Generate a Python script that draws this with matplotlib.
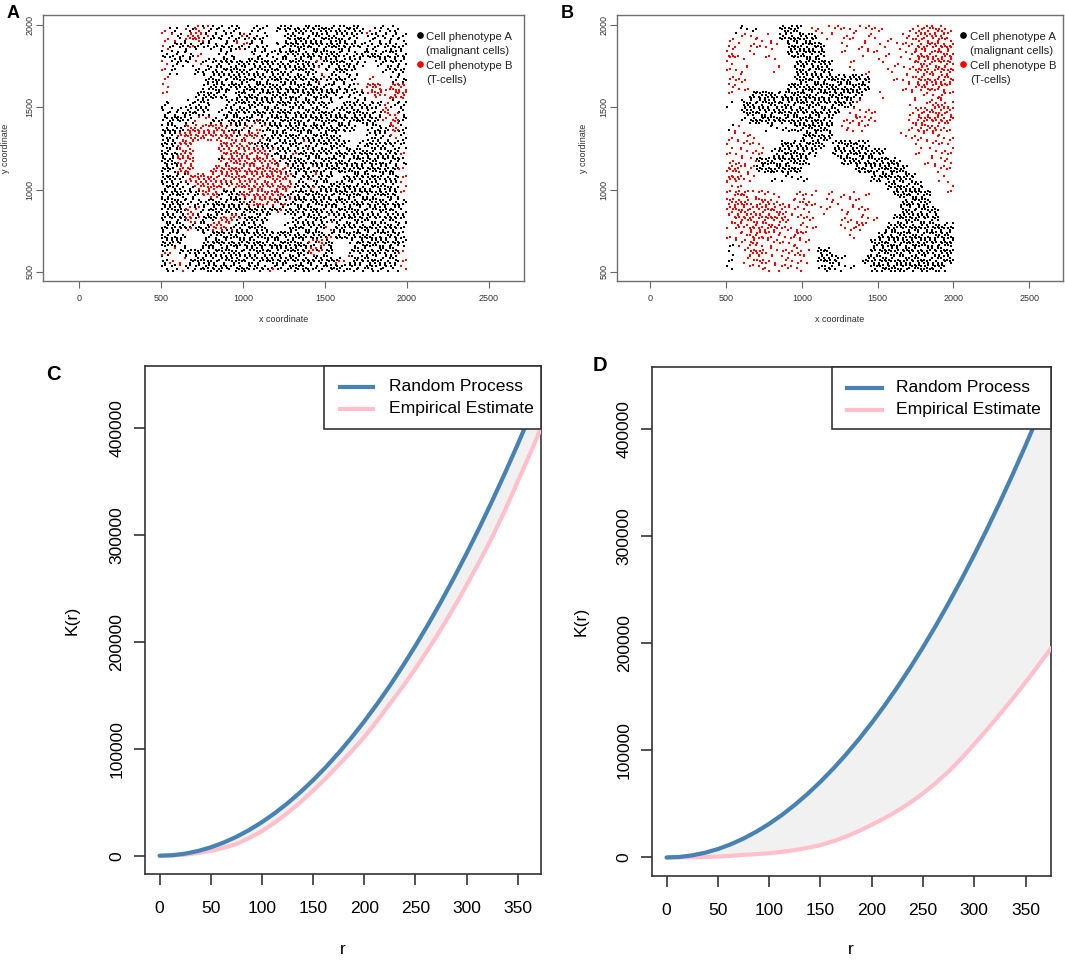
import matplotlib
matplotlib.use("Agg")
import matplotlib.pyplot as plt
from matplotlib.patches import Rectangle
from matplotlib.lines import Line2D

plt.rcParams['font.family'] = ['Liberation Sans', 'DejaVu Sans']

# ---------------- data ----------------
# Tissue maps (50 x 50 unit cells, region x 500-2000, y 500-2000, row 0 = top)
# K dense malignant, k sparse malignant, R dense T-cells, r sparse T-cells,
# m mixed, . empty
CELL = 50
X0, Y0 = 500, 500
map_A = [
    "r k . m R  m k k k k  . k k . k  K K K K K  K K K K k  r k k k .",
    "r r k R R  m k k k m  m k k . .  K K K K K  K K K K .  k k k k k",
    "r k k m k  k k k k m  m k k . k  K K K K K  K K K k k  k k k k k",
    "k k k k r  . . k k .  . k k k k  K K K K K  K K k k k  K K K K k",
    "r k k k r  k k K K K  K K K K K  K K K K m  K K K K k  . k k K k",
    "r k . . k  k K K K K  K K K K K  K K K K r  k K K k .  . . k k k",
    "r . . . .  k K K K K  K K K K K  K K K K m  k K k k .  r . . k k",
    "r . . . .  k K K K K  K K K K K  K K K K K  K k k k r  R R r R R",
    "r . . . k  K K K . K  K K K K K  K K K K K  K k k k k  r R r R R",
    "k . . k K  K . . K K  K K K K K  K K K K K  k . k K K  k k r k k",
    "k k k K K  K . k K K  K K K K K  K K K K K  K K K K K  K k R r k",
    "k K K k r  r k k K K  K m K K K  K K K K K  K K K K K  K k r R k",
    "K K k R R  R R R m K  m r m K K  K K K K K  K K K k .  k K k R k",
    "K K R R R  R R R R m  R R m K K  K K K K K  K K . . .  k K k r k",
    "K K R R .  . . R R R  R m K K K  K K m K K  K K K . k  K K K k k",
    "K K R R .  . . R R R  R R R m K  K m K K K  K K K K K  K K K K r",
    "K K R R .  . . m R R  R R R R m  K K K K K  K K K K K  K K K K k",
    "K k R R .  . R R R R  R R R R R  m K K m K  K K K K K  K K K K r",
    "K K k R R  R R R R R  R R R R R  R k K m K  K . K K K  K K K K r",
    "K K k k R  R R R m R  R R R R R  R k K m K  K K K K K  K K K K r",
    "K K K k k  R R k K m  R R R R R  m K K K K  K K K K K  K K K K r",
    "K K K k k  k K K K K  m R R R m  m K K K K  K K K K K  K K K K k",
    "K K K R m  k K K K K  K K K K m  K K K K K  K K K K K  K K K K k",
    "K K K R m  K K R R m  K K K . .  . K K K K  m K K K K  K K K K k",
    "K K K m K  K R R m K  K K K . .  k K K K K  r K K K K  K K K K k",
    "K K k . .  k K K K K  K K K K K  K K K K K  m K K K K  K K K K k",
    "K K k . .  K K K K K  K K K K K  K K K m R  K . . k K  K K K K k",
    "m r k k K  K K K K K  K K K K K  K K K R m  K . . k K  K K K K r",
    "k r r k K  K K K K K  K K K K K  K K K K K  K m r K K  K K K K r",
    "k k r k k  K K K k K  K k k m k  k K K k k  K K k K k  K k k k r",
]
map_B = [
    ". k k k .  . . K K K  . r r r r  r r r r r  r . . . r  R R R R r",
    "r . r r r  r . K K K  K K . r .  r r . r r  . r . r r  R R R R r",
    "r r . r r  r r . K K  K K K . .  r . r r .  r . r r r  R R R R R",
    "R r . r .  r . . K K  K K K . .  r . . r r  . r . r r  R R R R R",
    "r . r . .  . r . . K  K K K K .  . r . . .  r . r . r  R R R R R",
    "r r r . .  . r . . K  K K K K .  . r . r .  . r . r r  R R R R R",
    "r r r . .  . . . . K  K K K K K  K K K K .  . . r r r  R R R R R",
    "r r r . .  . . . K K  K K K K K  K K K K .  . . . r r  R R R R r",
    "r . . K K  K K K K K  K K K K K  K K K . .  r . . . r  . r r R r",
    "k . K K K  K K K K K  K K K K K  K K r . .  . . . . r  . r R R r",
    ". . K K K  K K K K K  K K K K K  . r r r r  . . . . r  R R R R R",
    ". . k K K  K K K K K  K K K K .  r r R r r  . . . . r  R R R R R",
    "k r . . .  k k k k K  K K K K .  r r r r .  . . . . r  R R R r r",
    "r r r r .  . . . . .  K K K K .  . . . . .  . . . r r  r r r r r",
    "r r r r r  . . K K K  K K K . K  K K K K .  . . . . .  r r r r r",
    "r r r r r  . K K K K  K K . . K  K K K K K  K . . . .  r . r r r",
    "r r r r K  K K K K K  K . . . .  K K K K K  K K K . .  . r r r r",
    "R R r r K  K K K K K  . . . . .  . . K K K  K K K K .  . . r r r",
    "R R r r .  . k k k k  k . . . .  . . . . K  K K K K K  . . . r .",
    "r r . . .  . . . . .  . . . . .  . . . . .  . K K K K  K . . . r",
    "r R R r r  r r . . r  r r . r .  r r . r .  . . K K K  K K . . r",
    "R R R r R  R r r r r  R r . r r  . r r . .  . . . K K  K K . . .",
    "R R R R R  R R R r r  r . r r .  r r r r .  . . . K K  K K K . .",
    "r R R R R  R R R r r  r r . . .  r r r r r  . . K K K  K K K . .",
    "r R r R R  R R r r r  r r . . .  r r R r .  . K K K K  K K K K K",
    "r r r R R  R r r r R  r . . . .  . r . . .  K K K K K  K K K K K",
    "k r r R r  r r r r r  r . . . .  . . . . K  K K K K K  K K K K K",
    "k . r R R  r r r r R  r . K K .  . . . . K  K K K K K  K K K K K",
    "k . r r R  r r r r r  r . K K K  k . . K K  K K K K K  K K K K K",
    "k . . r r  r r r r r  . . k K k  k k . . K  K K K K K  K K K K .",
]
# points per cell: (malignant, T-cells)
density_A = {'K': (6, 0), 'k': (4, 0), 'R': (0, 6), 'r': (0, 2), 'm': (3, 2), '.': (0, 0)}
density_B = {'K': (6, 0), 'k': (2, 0), 'R': (0, 5), 'r': (0, 2), 'm': (2, 2), '.': (0, 0)}

# K-function curves
r_vals = [0, 12.5, 25, 37.5, 50, 62.5, 75, 87.5, 100, 112.5, 125, 137.5, 150, 162.5,
          175, 187.5, 200, 212.5, 225, 237.5, 250, 262.5, 275, 287.5, 300, 312.5,
          325, 337.5, 350, 362.5, 375]
k_random = [0, 491, 1963, 4418, 7854, 12272, 17671, 24053, 31416, 39761, 49087,
            59396, 70686, 82958, 96211, 110447, 125664, 141863, 159043, 177205,
            196350, 216475, 237583, 259672, 282743, 306796, 331831, 357847, 384845,
            412825, 441786]
k_emp_C = [0, 150, 1000, 2500, 4500, 7300, 11000, 16500, 23000, 31000, 40000,
           50000, 61000, 72500, 85000, 97500, 111000, 126000, 142000, 158000,
           175000, 193000, 212000, 232000, 253000, 275000, 298000, 323000, 350000,
           377000, 405000]
k_emp_D = [0, 50, 200, 450, 800, 1500, 2400, 3100, 4000, 5300, 6900, 9000, 11500,
           15200, 19500, 24700, 30500, 36700, 43500, 51200, 59800, 69600, 80400,
           92600, 105800, 119600, 133800, 148400, 163600, 179400, 195600]

legend_points = ["Cell phenotype A", "(malignant cells)", "Cell phenotype B", "(T-cells)"]
legend_curves = ["Random Process", "Empirical Estimate"]

# spread-out fill order on a 5 x 5 sub-lattice inside each cell
ORDER = [0, 7, 14, 21, 3, 10, 17, 24, 6, 13, 20, 2, 9, 16, 23, 5, 12, 19, 1, 8,
         15, 22, 4, 11, 18]
SUB = 5


def cells_to_points(rows, density):
    bx, by, rx, ry = [], [], [], []
    nrow = len(rows)
    for i, row in enumerate(rows):
        codes = (row.split() + ['.'] * 30)[:30]
        for j, code in enumerate(codes):
            nb, nr = density.get(code, (0, 0))
            if nb + nr == 0:
                continue
            k = (i * 11 + j * 17) % len(ORDER)
            order = ORDER[k:] + ORDER[:k]
            for t, idx in enumerate(order[:nb + nr]):
                a, b = idx % SUB, idx // SUB
                x = X0 + j * CELL + (a + 0.5) * CELL / SUB
                y = Y0 + (nrow - 1 - i) * CELL + (b + 0.5) * CELL / SUB
                if t < nb:
                    bx.append(x); by.append(y)
                else:
                    rx.append(x); ry.append(y)
    return bx, by, rx, ry


fig = plt.figure(figsize=(10.65, 9.6), dpi=100)
W, H = 1065.0, 960.0


def axes_px(l, t, r, b):
    return fig.add_axes([l / W, 1 - b / H, (r - l) / W, (b - t) / H])


# ---------------- top panels ----------------
top_specs = [
    ("A", map_A, density_A, (43.2, 15.2, 523.8, 281.0), (-218.4, 2713.8), 6.8, 6.0,
     (420.0, 426.0)),
    ("B", map_B, density_B, (617.2, 15.2, 1063.0, 281.0), (-219.8, 2722.8), 560.7, 583.0,
     (963.4, 970.3)),
]
for letter, cmap, dens, box, xl, lx, ylx, (mk_x, tx_x) in top_specs:
    ax = axes_px(*box)
    bx, by, rx, ry = cells_to_points(cmap, dens)
    ax.scatter(bx, by, s=2.3, marker='s', c='black', linewidths=0)
    ax.scatter(rx, ry, s=2.3, marker='s', c='#FF0000', linewidths=0)
    ax.set_xlim(*xl)
    ax.set_ylim(445, 2061)
    ax.set_xticks([0, 500, 1000, 1500, 2000, 2500])
    ax.set_xticklabels(['0', '500', '1000', '1500', '2000', '2500'])
    ax.set_yticks([500, 1000, 1500, 2000])
    ax.set_yticklabels(['500', '1000', '1500', '2000'], rotation=90, va='center')
    ax.tick_params(axis='both', labelsize=6.5, length=4.8, width=0.8,
                   color='#666666', labelcolor='#333333')
    ax.tick_params(axis='x', pad=4.6)
    ax.tick_params(axis='y', pad=1.5)
    for sp in ax.spines.values():
        sp.set_color('#707070')
        sp.set_linewidth(1.0)
    l, t, r, b = box
    ax.set_xlabel("x coordinate", fontsize=6.5, color='#333333')
    ax.xaxis.set_label_coords(0.5, (b - 320.0) / (b - t))
    ax.xaxis.label.set_va('center')
    ax.set_ylabel("y coordinate", fontsize=6.5, color='#333333')
    ax.yaxis.set_label_coords((ylx - l) / (r - l), 0.5)
    ax.yaxis.label.set_va('center')

    def fx(px):
        return (px - l) / (r - l)

    def fy(py):
        return (b - py) / (b - t)
    ax.plot([fx(mk_x)], [fy(35.4)], 'o', color='black', ms=3.8, transform=ax.transAxes,
            clip_on=False)
    ax.plot([fx(mk_x)], [fy(64.0)], 'o', color='#FF0000', ms=3.8, transform=ax.transAxes,
            clip_on=False)
    for txt, py in zip(legend_points, [37.0, 51.0, 65.6, 80.0]):
        ax.text(fx(tx_x), fy(py), txt, transform=ax.transAxes, fontsize=8.2,
                ha='left', va='center', color='#222222')
    fig.text(lx / W, 1 - 17.5 / H, letter, fontsize=13, fontweight='bold',
             ha='left', va='baseline')

# ---------------- bottom panels ----------------
bot_specs = [
    ("C", k_emp_C, (144.7, 365.7, 541.0, 874.0), (-14.6, 372.8), (-17100, 458500),
     46.0, 379.5, 72.0, (324.0, 429.0, 340.0, 373.0, 389.0, 387.0, 409.0)),
    ("D", k_emp_D, (652.0, 367.0, 1050.5, 876.0), (-14.2, 374.3), (-17300, 458000),
     593.0, 371.0, 581.0, (832.0, 429.0, 846.7, 881.5, 896.0, 388.0, 409.6)),
]
for letter, emp, box, xl, yl, lx, ly, klx, leg in bot_specs:
    ax = axes_px(*box)
    l, t, r, b = box
    ax.fill_between(r_vals, k_random, emp, color='#F1F1F1', linewidth=0, zorder=1)
    ax.plot(r_vals, emp, color='#FFC0CB', lw=3.0, zorder=3, solid_capstyle='round',
            solid_joinstyle='round')
    ax.plot(r_vals, k_random, color='#4682B4', lw=3.0, zorder=4, solid_capstyle='round',
            solid_joinstyle='round')
    ax.set_xlim(*xl)
    ax.set_ylim(*yl)
    ax.set_xticks([0, 50, 100, 150, 200, 250, 300, 350])
    ax.set_xticklabels(['0', '50', '100', '150', '200', '250', '300', '350'])
    ax.set_yticks([0, 100000, 200000, 300000, 400000])
    ax.set_yticklabels(['0', '100000', '200000', '300000', '400000'], rotation=90,
                       va='center')
    ax.tick_params(axis='both', labelsize=12.6, length=8, width=1.2, color='#333333')
    ax.tick_params(axis='x', pad=11.5)
    ax.tick_params(axis='y', pad=6.5)
    for sp in ax.spines.values():
        sp.set_color('#333333')
        sp.set_linewidth(1.2)
    ax.set_xlabel("r", fontsize=12.6)
    ax.xaxis.set_label_coords(0.5, (b - 950.0) / (b - t))
    ax.xaxis.label.set_va('center')
    ax.set_ylabel("K(r)", fontsize=12.6)
    ax.yaxis.set_label_coords((klx - l) / (r - l), 0.5)
    ax.yaxis.label.set_va('center')

    def fx(px):
        return (px - l) / (r - l)

    def fy(py):
        return (b - py) / (b - t)
    bl, bb, x1, x2, txx, yb, yp = leg
    ax.add_patch(Rectangle((fx(bl), fy(bb)), 1 - fx(bl), 1 - fy(bb), transform=ax.transAxes,
                           facecolor='white', edgecolor='#333333', lw=1.2, zorder=10,
                           clip_on=False))
    ax.add_line(Line2D([fx(x1), fx(x2)], [fy(yb), fy(yb)], transform=ax.transAxes,
                       color='#4682B4', lw=3.0, zorder=11))
    ax.add_line(Line2D([fx(x1), fx(x2)], [fy(yp), fy(yp)], transform=ax.transAxes,
                       color='#FFC0CB', lw=3.0, zorder=11))
    ax.text(fx(txx), fy(yb), legend_curves[0], transform=ax.transAxes, fontsize=12.6,
            ha='left', va='center', zorder=12)
    ax.text(fx(txx), fy(yp), legend_curves[1], transform=ax.transAxes, fontsize=12.6,
            ha='left', va='center', zorder=12)
    fig.text(lx / W, 1 - ly / H, letter, fontsize=14.5, fontweight='bold',
             ha='left', va='baseline')

fig.savefig("out.png", dpi=100, facecolor='white')
